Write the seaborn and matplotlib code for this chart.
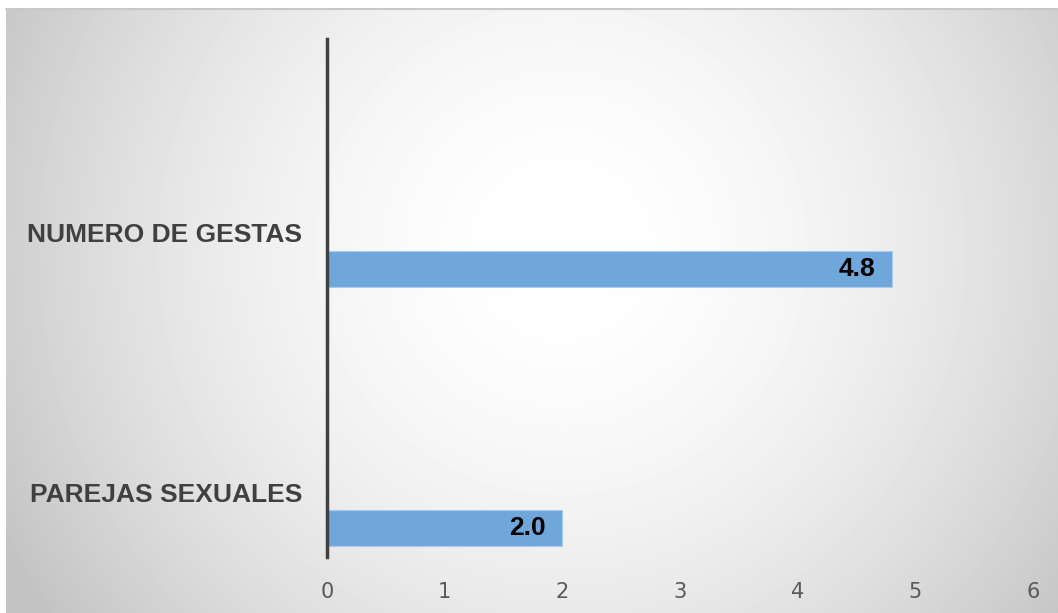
import numpy as np
import pandas as pd
import matplotlib
matplotlib.use("Agg")
import matplotlib.pyplot as plt
import matplotlib.transforms as mtransforms
import seaborn as sns

categorias = ["NUMERO DE GESTAS", "PAREJAS SEXUALES"]
valores = [4.8, 2.0]
etiquetas = ["4.8", "2.0"]
ticks_x = [0, 1, 2, 3, 4, 5, 6]

df = pd.DataFrame({"categoria": categorias, "valor": valores})

sns.set_theme(style="white")
plt.rcParams["font.family"] = ["Liberation Sans", "DejaVu Sans"]

W, H, DPI = 1058, 613, 100
fig = plt.figure(figsize=(W / DPI, H / DPI), dpi=DPI)
fig.patch.set_facecolor("white")

# radial gradient background (white centre, grey edges)
bg = fig.add_axes([6 / W, 0, 1 - 6 / W, 1 - 9 / H])
yy, xx = np.mgrid[0:604, 0:1052]
cx, cy = 555, 240
d = np.sqrt((xx - cx) ** 2 + (yy - cy) ** 2) / 560.0
shade = np.clip(1.0 - 0.19 * d ** 1.8, 0.76, 1.0)
bg.imshow(shade, cmap="gray", vmin=0, vmax=1, aspect="auto", interpolation="bilinear")
bg.set_axis_off()
fig.add_artist(plt.Line2D([6 / W, 1], [1 - 9 / H, 1 - 9 / H], color="#c8c8c8", lw=1.5,
                          transform=fig.transFigure))

# main axes: x=0 at px 327, x=6 at px 1033 ; y from 39 to 557
left, right = 327 / W, 1033 / W
top, bottom = 1 - 39 / H, 1 - 557 / H
ax = fig.add_axes([left, bottom, right - left, top - bottom])
ax.patch.set_alpha(0)

sns.barplot(data=df, x="valor", y="categoria", orient="h", color="#70a7db",
            width=0.139, edgecolor="#a9cbec", linewidth=0.8, saturation=1, ax=ax)

ax.set_xlim(0, 6)
ax.set_ylim(1.11, -0.886)
ax.set_xticks(ticks_x)
ax.set_xticklabels([str(t) for t in ticks_x], fontsize=15, color="#595959",
                   family=["Liberation Sans Narrow", "DejaVu Sans"])
ax.tick_params(axis="x", length=0, pad=18)
ax.tick_params(axis="y", length=0, pad=18)
for lab in ax.get_yticklabels():
    lab.set_fontsize(19)
    lab.set_fontweight("bold")
    lab.set_color("#404040")
    lab.set_transform(lab.get_transform() +
                      mtransforms.ScaledTranslation(0, 36 / DPI, fig.dpi_scale_trans))
ax.set_xlabel("")
ax.set_ylabel("")
for s in ["top", "right", "bottom"]:
    ax.spines[s].set_visible(False)
ax.spines["left"].set_color("#404040")
ax.spines["left"].set_linewidth(2.5)

for i, (v, t) in enumerate(zip(valores, etiquetas)):
    ax.annotate(t, xy=(v, i), xytext=(-12, 0), textcoords="offset points",
                ha="right", va="center", fontsize=19, fontweight="bold", color="black")

fig.savefig("out.png", dpi=DPI)
